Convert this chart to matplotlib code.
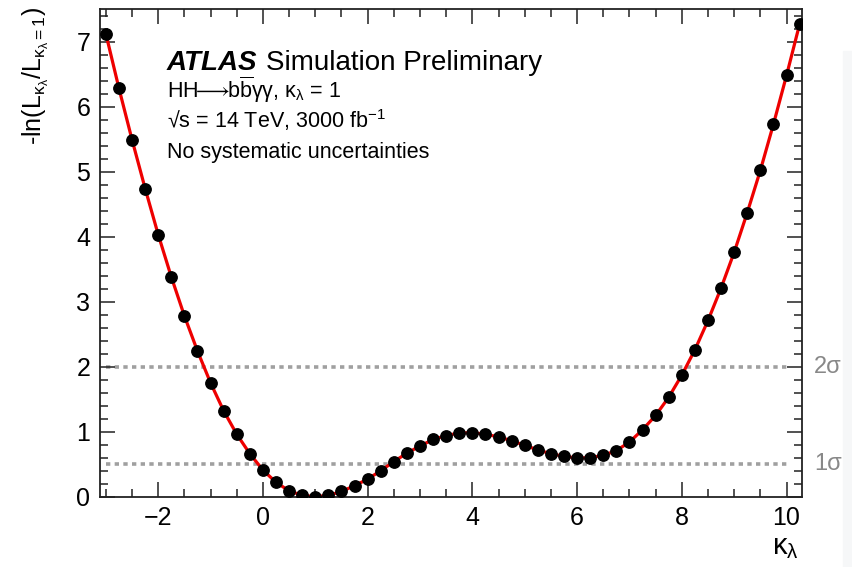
import numpy as np
import matplotlib
matplotlib.use("Agg")
from matplotlib import pyplot as plt
from matplotlib.ticker import MultipleLocator
import matplotlib.transforms as mtransforms

plt.rcParams['font.family'] = ['Liberation Sans', 'DejaVu Sans']
plt.rcParams['mathtext.fontset'] = 'custom'
plt.rcParams['mathtext.rm'] = 'Liberation Sans'
plt.rcParams['mathtext.it'] = 'Liberation Sans'   # upright greek, ROOT style
plt.rcParams['mathtext.bf'] = 'Liberation Sans:bold'
plt.rcParams['mathtext.fallback'] = 'stixsans'

### Likelihood scan points

kappa_lambda = [-3.0, -2.75, -2.5, -2.25, -2.0, -1.75, -1.5, -1.25, -1.0, -0.75,
                -0.5, -0.25, 0.0, 0.25, 0.5, 0.75, 1.0, 1.25, 1.5, 1.75,
                2.0, 2.25, 2.5, 2.75, 3.0, 3.25, 3.5, 3.75, 4.0, 4.25,
                4.5, 4.75, 5.0, 5.25, 5.5, 5.75, 6.0, 6.25, 6.5, 6.75,
                7.0, 7.25, 7.5, 7.75, 8.0, 8.25, 8.5, 8.75, 9.0, 9.25,
                9.5, 9.75, 10.0, 10.25]
nll = [7.12, 6.28, 5.49, 4.74, 4.03, 3.38, 2.78, 2.24, 1.75, 1.32,
       0.96, 0.66, 0.41, 0.22, 0.09, 0.02, 0.0, 0.02, 0.08, 0.17,
       0.27, 0.40, 0.54, 0.67, 0.78, 0.88, 0.94, 0.98, 0.985, 0.96,
       0.92, 0.86, 0.79, 0.72, 0.66, 0.62, 0.595, 0.60, 0.635, 0.71,
       0.84, 1.03, 1.25, 1.53, 1.87, 2.26, 2.71, 3.21, 3.76, 4.37,
       5.02, 5.73, 6.48, 7.27]

sigma_levels = [0.5, 2.0]
sigma_labels = ["1σ", "2σ"]

### Plot

fig = plt.figure(figsize=(8.52, 5.67), dpi=100)
ax = fig.add_axes([0.1175, 0.124, 0.8235, 0.860])

for lvl in sigma_levels:
  ax.plot([-3.0, 10.0], [lvl, lvl], color='#a0a0a0', lw=2.6,
          linestyle=(0, (1.2, 1.2)), dash_capstyle='butt', zorder=1)

ax.plot(kappa_lambda, nll, color='#ee0000', lw=2.3, zorder=2)
ax.plot(kappa_lambda, nll, 'o', color='black', markersize=8.2, zorder=3)

ax.set_xlim(-3.11, 10.29)
ax.set_ylim(0, 7.5)

ax.xaxis.set_major_locator(MultipleLocator(2))
ax.xaxis.set_minor_locator(MultipleLocator(0.5))
ax.yaxis.set_major_locator(MultipleLocator(1))
ax.yaxis.set_minor_locator(MultipleLocator(0.2))
ax.tick_params(which='both', direction='in', top=True, right=True,
               width=1.1, color='#222222')
ax.tick_params(which='major', length=11, labelsize=18)
ax.tick_params(which='minor', length=6)
ax.tick_params(axis='x', which='major', pad=7)
ax.tick_params(axis='y', which='major', pad=7)
for s in ax.spines.values():
  s.set_linewidth(1.3)
  s.set_color('#222222')

ax.set_xticks([-2, 0, 2, 4, 6, 8, 10])
ax.set_xticklabels(['\u22122', '0', '2', '4', '6', '8', '10'])

ax.set_ylabel(r"-ln(L$_{\kappa_{\lambda}}$/L$_{\kappa_{\lambda}=1}$)",
              fontsize=18, loc='top')
ax.yaxis.set_label_coords(-0.07, 1.005)
ax.set_xlabel(r"$\kappa_{\lambda}$", fontsize=21, loc='right')
ax.xaxis.set_label_coords(0.995, -0.075)

trans = mtransforms.blended_transform_factory(ax.transAxes, ax.transData)
for lvl, lab in zip(sigma_levels, sigma_labels):
  ax.text(1.018, lvl, lab, transform=trans, color='#888888', fontsize=17,
          va='center', ha='left')

# ATLAS label block
ax.text(0.095, 0.89, "ATLAS", transform=ax.transAxes, fontsize=20,
        fontweight='bold', fontstyle='italic', va='center')
ax.text(0.2366, 0.89, "Simulation Preliminary", transform=ax.transAxes,
        fontsize=20, va='center')
ax.text(0.095, 0.834,
        r"HH$\!\!\longrightarrow\!\!$b$\overline{\mathrm{b}}$γγ, κ$_{\lambda}$ = 1",
        transform=ax.transAxes, fontsize=15.5, va='center')
ax.text(0.095, 0.772, "\u221as = 14 TeV, 3000 fb$^{-1}$",
        transform=ax.transAxes, fontsize=15.5, va='center')
ax.text(0.095, 0.706, "No systematic uncertainties", transform=ax.transAxes,
        fontsize=15.5, va='center')

# faint strip at the right edge
fig.patches.append(plt.Rectangle((0.99, 0.0), 0.01, 0.91, transform=fig.transFigure,
                                 color='#f6f7f8', zorder=0))

fig.savefig("out.png", dpi=100)
